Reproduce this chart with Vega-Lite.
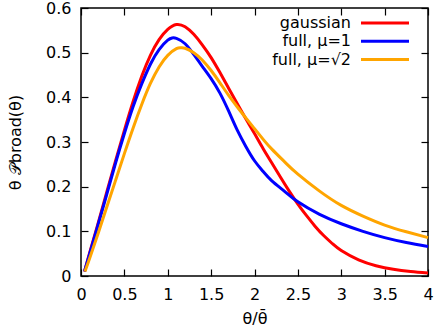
{
  "$schema": "https://vega.github.io/schema/vega-lite/v6.json",
  "width": 347,
  "height": 268,
  "autosize": {"type": "none"},
  "padding": {"left": 81, "top": 8, "right": 17, "bottom": 59},
  "config": {
    "view": {"stroke": "black", "strokeWidth": 1.5},
    "font": "DejaVu Sans",
    "axis": {
      "domain": false,
      "grid": false,
      "tickSize": -7,
      "tickColor": "black",
      "tickWidth": 1.2,
      "labelFont": "DejaVu Sans",
      "labelFontSize": 16,
      "labelColor": "black",
      "titleFont": "DejaVu Sans",
      "titleFontSize": 16,
      "titleFontWeight": "normal",
      "titleColor": "black"
    }
  },
  "data": {
    "values": [
      {"t": 0.04, "v": 0.01, "s": "gaussian"},
      {"t": 0.1, "v": 0.052, "s": "gaussian"},
      {"t": 0.2, "v": 0.12, "s": "gaussian"},
      {"t": 0.3, "v": 0.19, "s": "gaussian"},
      {"t": 0.4, "v": 0.259, "s": "gaussian"},
      {"t": 0.5, "v": 0.326, "s": "gaussian"},
      {"t": 0.6, "v": 0.39, "s": "gaussian"},
      {"t": 0.7, "v": 0.447, "s": "gaussian"},
      {"t": 0.8, "v": 0.494, "s": "gaussian"},
      {"t": 0.9, "v": 0.529, "s": "gaussian"},
      {"t": 1.0, "v": 0.552, "s": "gaussian"},
      {"t": 1.1, "v": 0.563, "s": "gaussian"},
      {"t": 1.2, "v": 0.558, "s": "gaussian"},
      {"t": 1.3, "v": 0.541, "s": "gaussian"},
      {"t": 1.4, "v": 0.517, "s": "gaussian"},
      {"t": 1.5, "v": 0.489, "s": "gaussian"},
      {"t": 1.6, "v": 0.456, "s": "gaussian"},
      {"t": 1.7, "v": 0.421, "s": "gaussian"},
      {"t": 1.8, "v": 0.386, "s": "gaussian"},
      {"t": 1.9, "v": 0.352, "s": "gaussian"},
      {"t": 2.0, "v": 0.319, "s": "gaussian"},
      {"t": 2.1, "v": 0.285, "s": "gaussian"},
      {"t": 2.2, "v": 0.253, "s": "gaussian"},
      {"t": 2.3, "v": 0.221, "s": "gaussian"},
      {"t": 2.4, "v": 0.19, "s": "gaussian"},
      {"t": 2.5, "v": 0.161, "s": "gaussian"},
      {"t": 2.6, "v": 0.135, "s": "gaussian"},
      {"t": 2.7, "v": 0.111, "s": "gaussian"},
      {"t": 2.8, "v": 0.09, "s": "gaussian"},
      {"t": 2.9, "v": 0.072, "s": "gaussian"},
      {"t": 3.0, "v": 0.057, "s": "gaussian"},
      {"t": 3.2, "v": 0.036, "s": "gaussian"},
      {"t": 3.4, "v": 0.023, "s": "gaussian"},
      {"t": 3.6, "v": 0.015, "s": "gaussian"},
      {"t": 3.8, "v": 0.01, "s": "gaussian"},
      {"t": 4.0, "v": 0.0065, "s": "gaussian"},
      {"t": 0.04, "v": 0.01, "s": "full, μ=1"},
      {"t": 0.1, "v": 0.05, "s": "full, μ=1"},
      {"t": 0.2, "v": 0.117, "s": "full, μ=1"},
      {"t": 0.3, "v": 0.185, "s": "full, μ=1"},
      {"t": 0.4, "v": 0.254, "s": "full, μ=1"},
      {"t": 0.5, "v": 0.319, "s": "full, μ=1"},
      {"t": 0.6, "v": 0.379, "s": "full, μ=1"},
      {"t": 0.7, "v": 0.43, "s": "full, μ=1"},
      {"t": 0.8, "v": 0.474, "s": "full, μ=1"},
      {"t": 0.9, "v": 0.507, "s": "full, μ=1"},
      {"t": 1.0, "v": 0.528, "s": "full, μ=1"},
      {"t": 1.05, "v": 0.533, "s": "full, μ=1"},
      {"t": 1.1, "v": 0.532, "s": "full, μ=1"},
      {"t": 1.2, "v": 0.52, "s": "full, μ=1"},
      {"t": 1.3, "v": 0.496, "s": "full, μ=1"},
      {"t": 1.4, "v": 0.469, "s": "full, μ=1"},
      {"t": 1.5, "v": 0.442, "s": "full, μ=1"},
      {"t": 1.6, "v": 0.41, "s": "full, μ=1"},
      {"t": 1.7, "v": 0.37, "s": "full, μ=1"},
      {"t": 1.8, "v": 0.327, "s": "full, μ=1"},
      {"t": 1.9, "v": 0.29, "s": "full, μ=1"},
      {"t": 2.0, "v": 0.258, "s": "full, μ=1"},
      {"t": 2.1, "v": 0.234, "s": "full, μ=1"},
      {"t": 2.2, "v": 0.213, "s": "full, μ=1"},
      {"t": 2.35, "v": 0.189, "s": "full, μ=1"},
      {"t": 2.5, "v": 0.166, "s": "full, μ=1"},
      {"t": 2.75, "v": 0.138, "s": "full, μ=1"},
      {"t": 3.0, "v": 0.117, "s": "full, μ=1"},
      {"t": 3.25, "v": 0.1, "s": "full, μ=1"},
      {"t": 3.5, "v": 0.086, "s": "full, μ=1"},
      {"t": 3.75, "v": 0.075, "s": "full, μ=1"},
      {"t": 4.0, "v": 0.066, "s": "full, μ=1"},
      {"t": 0.045, "v": 0.01, "s": "full, μ=√2"},
      {"t": 0.1, "v": 0.04, "s": "full, μ=√2"},
      {"t": 0.2, "v": 0.097, "s": "full, μ=√2"},
      {"t": 0.3, "v": 0.156, "s": "full, μ=√2"},
      {"t": 0.4, "v": 0.215, "s": "full, μ=√2"},
      {"t": 0.5, "v": 0.274, "s": "full, μ=√2"},
      {"t": 0.6, "v": 0.331, "s": "full, μ=√2"},
      {"t": 0.7, "v": 0.384, "s": "full, μ=√2"},
      {"t": 0.8, "v": 0.431, "s": "full, μ=√2"},
      {"t": 0.9, "v": 0.468, "s": "full, μ=√2"},
      {"t": 1.0, "v": 0.494, "s": "full, μ=√2"},
      {"t": 1.1, "v": 0.509, "s": "full, μ=√2"},
      {"t": 1.15, "v": 0.511, "s": "full, μ=√2"},
      {"t": 1.2, "v": 0.51, "s": "full, μ=√2"},
      {"t": 1.3, "v": 0.5, "s": "full, μ=√2"},
      {"t": 1.4, "v": 0.483, "s": "full, μ=√2"},
      {"t": 1.5, "v": 0.46, "s": "full, μ=√2"},
      {"t": 1.6, "v": 0.433, "s": "full, μ=√2"},
      {"t": 1.7, "v": 0.405, "s": "full, μ=√2"},
      {"t": 1.8, "v": 0.379, "s": "full, μ=√2"},
      {"t": 1.9, "v": 0.354, "s": "full, μ=√2"},
      {"t": 2.0, "v": 0.33, "s": "full, μ=√2"},
      {"t": 2.1, "v": 0.306, "s": "full, μ=√2"},
      {"t": 2.2, "v": 0.284, "s": "full, μ=√2"},
      {"t": 2.35, "v": 0.255, "s": "full, μ=√2"},
      {"t": 2.5, "v": 0.228, "s": "full, μ=√2"},
      {"t": 2.75, "v": 0.19, "s": "full, μ=√2"},
      {"t": 3.0, "v": 0.158, "s": "full, μ=√2"},
      {"t": 3.25, "v": 0.134, "s": "full, μ=√2"},
      {"t": 3.5, "v": 0.114, "s": "full, μ=√2"},
      {"t": 3.75, "v": 0.099, "s": "full, μ=√2"},
      {"t": 4.0, "v": 0.086, "s": "full, μ=√2"}
    ]
  },
  "layer": [
    {
      "mark": {"type": "line", "strokeWidth": 3, "interpolate": "natural"},
      "encoding": {
        "x": {
          "field": "t", "type": "quantitative",
          "scale": {"domain": [0, 4], "nice": false, "zero": false},
          "axis": {"orient": "bottom", "values": [0, 0.5, 1, 1.5, 2, 2.5, 3, 3.5, 4], "format": "~g", "labelPadding": 17, "title": "θ/θ̄", "titlePadding": 8, "labelFlush": false}
        },
        "y": {
          "field": "v", "type": "quantitative",
          "scale": {"domain": [0, 0.6], "nice": false},
          "axis": {"orient": "left", "values": [0, 0.1, 0.2, 0.3, 0.4, 0.5, 0.6], "format": "~g", "labelPadding": 17, "title": "θ 𝒫broad(θ)", "titlePadding": 22, "labelFlush": false}
        },
        "color": {
          "field": "s", "type": "nominal",
          "scale": {"domain": ["gaussian", "full, μ=1", "full, μ=√2"], "range": ["#ff0000", "#0000ff", "#ffa500"]},
          "legend": {
            "orient": "none", "legendX": 296, "legendY": 7, "title": null,
            "symbolType": "M-4,0H4", "symbolSize": 144, "symbolStrokeWidth": 3,
            "labelAlign": "right", "labelOffset": -42, "labelFontSize": 16,
            "labelFont": "DejaVu Sans", "labelColor": "black", "rowPadding": 2.3
          }
        }
      }
    },
    {
      "mark": {"type": "line", "opacity": 0},
      "encoding": {
        "x": {"field": "t", "type": "quantitative", "axis": {"orient": "top", "values": [0, 0.5, 1, 1.5, 2, 2.5, 3, 3.5, 4], "labels": false, "title": null}},
        "y": {"field": "v", "type": "quantitative", "axis": {"orient": "right", "values": [0, 0.1, 0.2, 0.3, 0.4, 0.5, 0.6], "labels": false, "title": null}}
      }
    }
  ],
  "resolve": {"axis": {"x": "independent", "y": "independent"}}
}
